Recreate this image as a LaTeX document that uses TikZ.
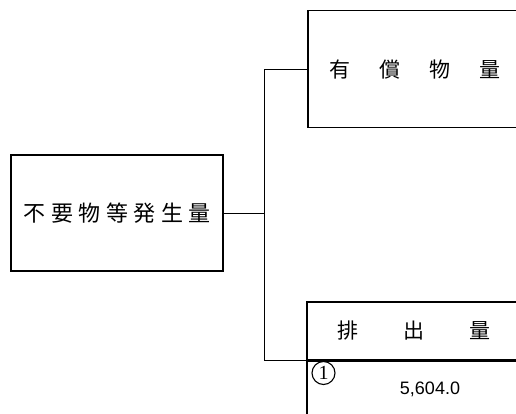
\documentclass[tikz,border=0pt]{standalone}
\usepackage{fontspec}
\setmainfont{Liberation Sans}
\newfontfamily\jpfont{Noto Sans CJK JP}
\newfontfamily\numfont{Liberation Serif}
\usetikzlibrary{positioning}

\tikzset{
  box/.style={draw, line width=1.5pt, inner sep=0pt, minimum width=214pt},
  wire/.style={line width=1pt},
  jplabel/.style={font=\jpfont\fontsize{21}{21}\selectfont, inner sep=0pt}
}

\begin{document}
\begin{tikzpicture}[x=1pt, y=-1pt]
      \useasboundingbox (0,0) rectangle (516,414);
      \clip (0,0) rectangle (516,414);
      % Total generated amount
      \node[box, minimum width=212pt, minimum height=116pt] (source) at (117,213) {};
      \node[jplabel, font=\jpfont\fontsize{22}{22}\selectfont] (sourcetext) at (source.center)
        {不\hspace{5.5pt}要\hspace{5.5pt}物\hspace{5.5pt}等\hspace{5.5pt}発\hspace{5.5pt}生\hspace{5.5pt}量};
      % Valuables
      \node[box, minimum height=117pt, anchor=north west] (valuable) at (307,10) {};
      \node[jplabel] (valuabletext) at (valuable.center)
        {有\hspace{29pt}償\hspace{29pt}物\hspace{29pt}量};
      % Discharge header
      \node[box, minimum height=58pt, anchor=north west] (discharge) at (306,301) {};
      \node[jplabel] (dischargetext) at (discharge.center)
        {排\hspace{45pt}出\hspace{45pt}量};
      % Discharge value
      \node[box, minimum height=80pt, anchor=north west] (amount) at (discharge.south west) {};
      \node[circle, draw, line width=1.1pt, minimum size=23pt, inner sep=0pt,
            font=\numfont\fontsize{20}{20}\selectfont] (mark) at (323.5,373) {1};
      \node[font=\fontsize{18}{18}\selectfont, inner sep=0pt] (value) at (430,389) {5,604.0};
      % Branch
      \draw[wire] (source.east) -- ++(41,0) coordinate (split);
      \draw[wire] (valuable.west) -| (split) |- (discharge.south west);
    \end{tikzpicture}
\end{document}
